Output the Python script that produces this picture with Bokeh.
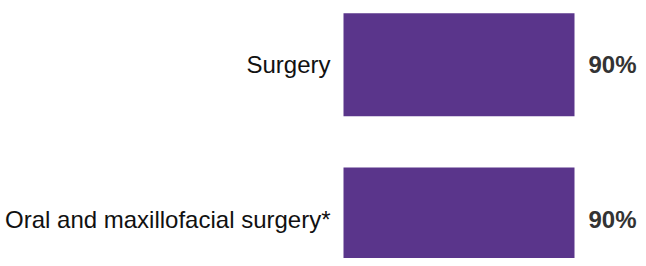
from bokeh.plotting import figure
from bokeh.models import Range1d, ColumnDataSource
from bokeh.core.properties import value
from bokeh.embed import file_html
from bokeh.resources import INLINE

categories = ["Surgery", "Oral and maxillofacial surgery*"]
values = [90, 90]
value_labels = ["90%", "90%"]

ypos = [1, 0]
src = ColumnDataSource(dict(cat=categories, val=values, lab=value_labels, y=ypos,
                            zero=[0] * len(values)))

W, H = 638, 258
# bar starts at pixel x 343, 90 units = 231 px
BAR0 = 343
PX = 231 / 90
x0 = (0 - BAR0) / PX
x1 = (W - BAR0) / PX
# bar centres at pixel y 64.2 and 218.5
PY = 218.5 - 64.2
y1 = 1 + 64.2 / PY
y0 = 0 - (H - 218.5) / PY

p = figure(width=W, height=H, output_backend="svg", toolbar_location=None,
           x_range=Range1d(x0, x1), y_range=Range1d(y0, y1),
           min_border=0, min_border_left=0, min_border_right=0,
           min_border_top=0, min_border_bottom=0)
p.axis.visible = False
p.grid.visible = False
p.outline_line_color = None
p.background_fill_color = "white"
p.border_fill_color = "white"

p.hbar(y="y", left="zero", right="val", height=103 / PY, source=src,
       fill_color="#5A358B", line_color=None)

p.text(x="zero", y="y", text="cat", source=src, x_offset=-13,
       text_align="right", text_baseline="middle",
       text_font=value("Liberation Sans"), text_font_size="24px",
       text_color="#111111")

p.text(x="val", y="y", text="lab", source=src, x_offset=14,
       text_align="left", text_baseline="middle",
       text_font=value("Liberation Sans"), text_font_size="24px",
       text_font_style="bold", text_color="#333333")

open("out.html", "w").write(file_html(p, INLINE))
